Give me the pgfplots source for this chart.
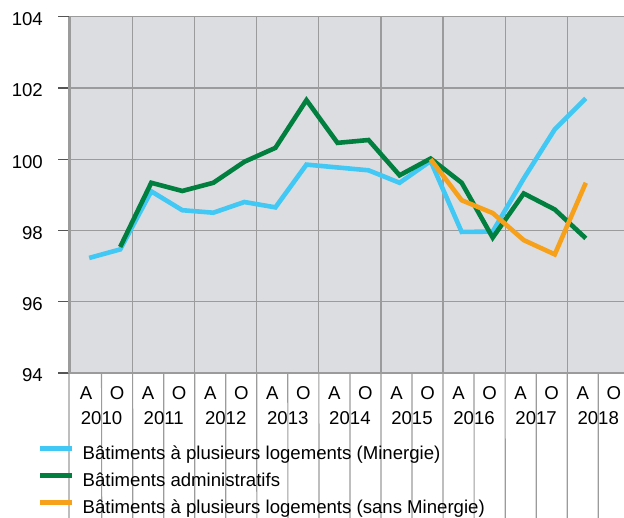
\documentclass[border=0pt]{standalone}
\usepackage{pgfplots}
\pgfplotsset{compat=1.18}
\usepackage{fontspec}
\setmainfont{Liberation Sans}
\definecolor{cblue}{HTML}{42C8F4}
\definecolor{cgreen}{HTML}{007F3E}
\definecolor{corange}{HTML}{F7A11A}
\definecolor{bg}{HTML}{DCDDE0}
\definecolor{gridc}{HTML}{9B9B9B}
\definecolor{darkc}{HTML}{555555}
\newcommand{\fs}{\fontsize{18.6}{22}\selectfont}
\begin{document}
\begin{tikzpicture}
\path[use as bounding box] (0,0) rectangle (624pt,517pt);
\begin{axis}[
  at={(69pt,144pt)}, anchor=south west,
  scale only axis, width=555pt, height=356.3pt,
  xmin=-0.05, xmax=17.83, ymin=94, ymax=104,
  axis line style={draw=none},
  axis background/.style={fill=bg},
  xtick={0,2,...,16}, xticklabels={}, xmajorgrids,
  ytick={94,96,...,104}, ymajorgrids,
  major grid style={gridc, line width=1.2pt},
  extra y ticks={94,100,104}, extra y tick labels={},
  extra y tick style={grid style={darkc, line width=1.2pt}},
  tick align=outside, major tick length=11pt,
  ytick style={darkc, line width=1.2pt},
  xtick style={draw=none},
  yticklabel style={font=\fs, inner sep=0pt, anchor=east, xshift=-15pt, yshift=-2.5pt},
  /pgf/number format/assume math mode=true,
  clip=false,
  legend cell align=left,
  legend image code/.code={\draw[#1, line width=4.5pt] (0pt,6.5pt) -- (32pt,6.5pt);},
  legend style={draw=none, fill=none, at={(-0.0559,-0.204)}, anchor=north west,
    inner sep=0pt, font=\fs, row sep=9pt,
    nodes={inner sep=0pt, text height=14pt, text depth=4pt},
    /tikz/every odd column/.append style={column sep=8pt}},
]
\draw[gridc, line width=1.2pt] (rel axis cs:0,0) -- (rel axis cs:0,1);
\pgfplotsinvokeforeach{2,4,...,16}{\draw[gridc, line width=1.2pt] (axis cs:#1,94) -- ++(0,-49pt);}
\draw[gridc, line width=1.2pt] (rel axis cs:0,0) -- ++(0,-49pt);
\pgfplotsinvokeforeach{1,3,...,17}{\draw[gridc, line width=1.2pt] (axis cs:#1,94) -- ++(0,-25pt);}
\pgfplotsinvokeforeach{0.5,2.5,...,16.5}{\node[font=\fs] at (axis cs:#1,94) [yshift=-20pt] {A};}
\pgfplotsinvokeforeach{1.5,3.5,...,17.5}{\node[font=\fs] at (axis cs:#1,94) [yshift=-20pt] {O};}
\node[font=\fs] at (axis cs:1,94) [yshift=-45pt] {2010};
\node[font=\fs] at (axis cs:3,94) [yshift=-45pt] {2011};
\node[font=\fs] at (axis cs:5,94) [yshift=-45pt] {2012};
\node[font=\fs] at (axis cs:7,94) [yshift=-45pt] {2013};
\node[font=\fs] at (axis cs:9,94) [yshift=-45pt] {2014};
\node[font=\fs] at (axis cs:11,94) [yshift=-45pt] {2015};
\node[font=\fs] at (axis cs:13,94) [yshift=-45pt] {2016};
\node[font=\fs] at (axis cs:15,94) [yshift=-45pt] {2017};
\node[font=\fs] at (axis cs:17,94) [yshift=-45pt] {2018};
\addplot[cblue, line width=4.6pt] coordinates {
 (0.6,97.23) (1.6,97.47) (2.6,99.10) (3.6,98.57) (4.6,98.50) (5.6,98.80)
 (6.6,98.65) (7.6,99.85) (8.6,99.77) (9.6,99.69) (10.6,99.34) (11.6,99.95)
 (12.6,97.96) (13.6,97.97) (14.6,99.46) (15.6,100.84) (16.6,101.71)};
\addlegendentry{Bâtiments à plusieurs logements (Minergie)}
\addplot[cgreen, line width=4.6pt] coordinates {
 (1.6,97.54) (2.6,99.34) (3.6,99.11) (4.6,99.34) (5.6,99.93) (6.6,100.32)
 (7.6,101.66) (8.6,100.46) (9.6,100.54) (10.6,99.55) (11.6,100.02)
 (12.6,99.34) (13.6,97.80) (14.6,99.04) (15.6,98.59) (16.6,97.78)};
\addlegendentry{Bâtiments administratifs}
\addplot[corange, line width=4.6pt] coordinates {
 (11.6,100.00) (12.6,98.85) (13.6,98.49) (14.6,97.73) (15.6,97.33) (16.6,99.34)};
\addlegendentry{Bâtiments à plusieurs logements (sans Minergie)}
\end{axis}
\end{tikzpicture}
\end{document}
